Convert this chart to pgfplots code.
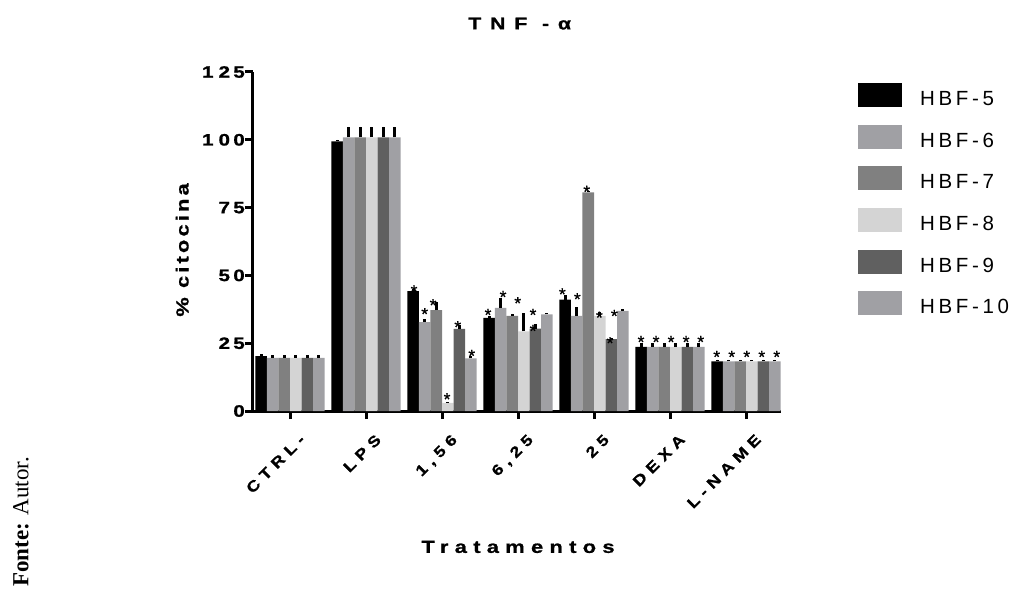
\documentclass[border=0pt]{standalone}
\usepackage{fontspec}
\usepackage{pgfplots}
\pgfplotsset{compat=1.18}
\usepackage{pgfplotstable}
\setmainfont{Liberation Sans}
\newfontfamily\serf{Liberation Serif}
\newcommand\ttlf{\bfseries\addfontfeature{LetterSpace=52,FakeStretch=1.25,FakeBold=1}}
\newcommand\labf{\bfseries\addfontfeature{LetterSpace=36,FakeStretch=1.25,FakeBold=1}}
\newcommand\ylabf{\bfseries\addfontfeature{LetterSpace=18,FakeStretch=1.25,FakeBold=1}}
\newcommand\tickf{\bfseries\addfontfeature{LetterSpace=36,FakeStretch=1.2,FakeBold=1}}
\newcommand\ytickf{\bfseries\addfontfeature{LetterSpace=20,FakeStretch=1.25,FakeBold=1}}
\newcommand\legf{\addfontfeature{LetterSpace=18}}
\newcommand\starf{\addfontfeature{FakeBold=0.6}}

\definecolor{c5}{RGB}{0,0,0}
\definecolor{c6}{RGB}{160,160,164}
\definecolor{c7}{RGB}{128,128,128}
\definecolor{c8}{RGB}{212,212,212}
\definecolor{c9}{RGB}{96,96,96}
\definecolor{c10}{RGB}{160,160,164}

% x: 0 CTRL-, 1 LPS, 2 1,56, 3 6,25, 4 25, 5 DEXA, 6 L-NAME
\pgfplotstableread{
x y e
0 20.2 0.8
1 99.4 0.6
2 44.2 0.8
3 34.3 0.8
4 41.1 1.5
5 23.6 1.5
6 18.3 0.6
}\hbfA
\pgfplotstableread{
x y e
0 19.6 1.0
1 100.9 4.0
2 32.8 1.2
3 38.0 3.7
4 35.1 3.3
5 23.6 1.5
6 18.3 0.6
}\hbfB
\pgfplotstableread{
x y e
0 19.6 1.0
1 100.9 4.0
2 37.2 3.0
3 35.1 0.8
4 80.6 0.6
5 23.6 1.5
6 18.3 0.6
}\hbfC
\pgfplotstableread{
x y e
0 19.6 1.0
1 100.9 4.0
2 3.0 0.3
3 29.4 6.8
4 35.1 1.5
5 23.6 1.5
6 18.3 0.6
}\hbfD
\pgfplotstableread{
x y e
0 19.6 1.0
1 100.9 4.0
2 30.3 1.5
3 30.4 1.5
4 26.5 0.6
5 23.6 1.5
6 18.3 0.6
}\hbfE
\pgfplotstableread{
x y e
0 19.6 1.0
1 100.9 4.0
2 19.4 0.8
3 35.6 0.6
4 36.9 0.8
5 23.6 1.5
6 18.3 0.6
}\hbfF
% significance asterisks (centre positions)
\pgfplotstableread{
x y
1.632 45.6
1.772 37.2
1.882 40.5
2.066 5.8
2.207 32.4
2.391 21.8
2.605 36.9
2.803 43.5
2.996 41.2
3.197 36.9
3.197 31.0
3.583 44.5
3.780 42.7
3.904 82.3
4.070 35.9
4.211 26.5
4.267 36.5
4.618 26.9
4.816 26.9
5.013 26.9
5.211 26.9
5.404 26.9
5.614 21.4
5.812 21.4
6.009 21.4
6.207 21.4
6.404 21.4
}\stars

\pgfplotsset{
  myerr/.style={error bars/.cd, y dir=plus, y explicit, error mark=none,
    error bar style={line width=3pt, draw=black, solid}},
}

\begin{document}
\begin{tikzpicture}
\path[use as bounding box] (-253pt,-183pt) rectangle (766pt,411pt);
\begin{axis}[
  at={(0pt,0pt)}, anchor=south west,
  width=528pt, height=339pt, scale only axis,
  xmin=-0.487, xmax=6.46, ymin=0, ymax=125,
  axis x line*=bottom, axis y line*=left,
  axis line style={line width=3pt, black},
  ybar=0pt, bar width=11.55pt,
  xtick={0,...,6},
  xticklabels={CTRL-,LPS,{1,56},{6,25},25,DEXA,L-NAME},
  ytick={0,25,50,75,100,125},
  yticklabels={0,25,50,75,1\hspace{5pt}00,1\hspace{5pt}25},
  tick align=outside, major tick length=8pt,
  every tick/.style={black, line width=3pt},
  xticklabel style={rotate=45, anchor=north east, inner sep=0pt,
    yshift=-16pt, xshift=-4pt,
    font=\fontsize{15}{15}\selectfont\tickf},
  yticklabel style={anchor=east, inner sep=0pt, xshift=0pt,
    font=\fontsize{16.5}{16.5}\selectfont\ytickf},
  title={TNF -α},
  title style={at={(axis description cs:0.505,1.125)}, anchor=center,
    font=\fontsize{17}{17}\selectfont\ttlf},
  xlabel={Tratamentos},
  xlabel style={at={(axis description cs:0.502,-0.401)}, anchor=center,
    font=\fontsize{17.5}{17.5}\selectfont\labf},
  ylabel={\% citocina},
  ylabel style={at={(axis description cs:-0.134,0.475)}, anchor=center,
    font=\fontsize{17.5}{17.5}\selectfont\ylabf},
  legend style={at={(axis description cs:1.1453,0.9667)}, anchor=north west,
    draw=none, fill=none, inner sep=0pt, outer sep=0pt, row sep=17.6pt,
    nodes={inner sep=0pt, outer sep=0pt},
    font=\fontsize{20.5}{20.5}\selectfont\legf},
  legend cell align=left,
  legend image code/.code={\fill[#1,draw=none] (0pt,-8pt) rectangle (44pt,16pt);
    \path[draw=none,fill=none] (0pt,0pt) rectangle (62.3pt,1pt);},
  clip=false,
]
\addplot[fill=c5, draw=none, myerr] table[x=x,y=y,y error=e]{\hbfA};
\addplot[fill=c6, draw=none, myerr] table[x=x,y=y,y error=e]{\hbfB};
\addplot[fill=c7, draw=none, myerr] table[x=x,y=y,y error=e]{\hbfC};
\addplot[fill=c8, draw=none, myerr] table[x=x,y=y,y error=e]{\hbfD};
\addplot[fill=c9, draw=none, myerr] table[x=x,y=y,y error=e]{\hbfE};
\addplot[fill=c10, draw=none, myerr] table[x=x,y=y,y error=e]{\hbfF};
\legend{HBF-5,HBF-6,HBF-7,HBF-8,HBF-9,HBF-10}
\end{axis}
\begin{axis}[
  at={(0pt,0pt)}, anchor=south west,
  width=528pt, height=339pt, scale only axis,
  xmin=-0.487, xmax=6.46, ymin=0, ymax=125,
  hide axis, clip=false,
]
\addplot[only marks, mark=none, nodes near coords={*},
  every node near coord/.style={anchor=base, inner sep=0pt, yshift=-10pt,
    font=\fontsize{17.5}{17.5}\selectfont\starf}]
  table[x=x,y=y]{\stars};
\end{axis}
\node[rotate=90, font=\serf\fontsize{23}{23}\selectfont] at (-232pt,-111pt)
  {\textbf{Fonte:} Autor.};
\end{tikzpicture}
\end{document}
